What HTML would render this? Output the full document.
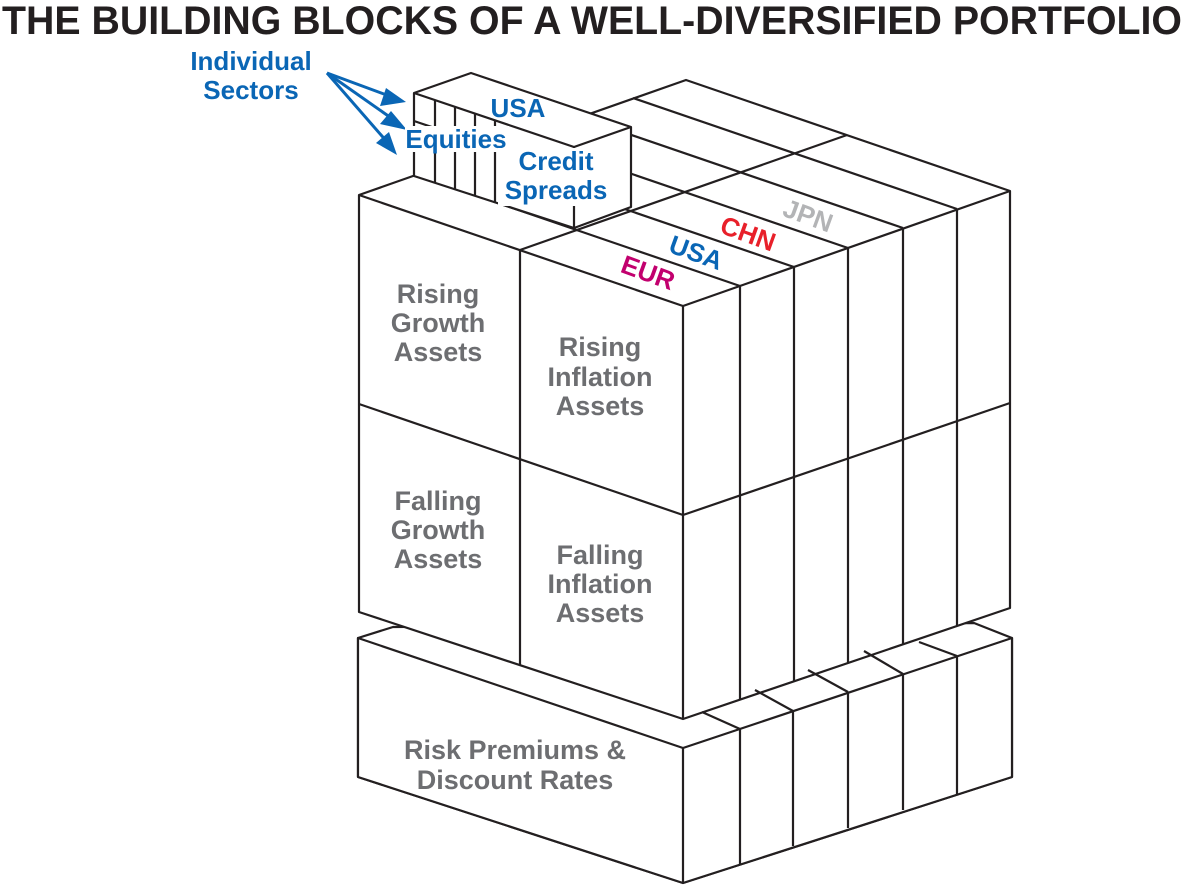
<!DOCTYPE html>
<html><head><meta charset="utf-8"><style>
html,body{margin:0;padding:0;background:#fff;}
svg{display:block;}
text{font-family:"Liberation Sans",sans-serif;font-weight:bold;}
.g{fill:#6d6e71;font-size:27px;}
.b{fill:#0a66b5;}
</style></head><body>
<svg width="1184" height="886" viewBox="0 0 1184 886" xmlns="http://www.w3.org/2000/svg">
<text x="2" y="34" font-size="40" fill="#231f20" textLength="1180" lengthAdjust="spacingAndGlyphs">THE BUILDING BLOCKS OF A WELL-DIVERSIFIED PORTFOLIO</text>

<g stroke="#231f20" stroke-width="2.2" fill="#fff" stroke-linejoin="round">
<!-- base block -->
<polygon points="358,638 393,627 974,623 1012,638 1012,777 683,883 358,777"/>
<polygon points="358,638 683,748 1012,638 1012,777 683,883 358,777" />
<line x1="683" y1="748" x2="683" y2="883"/>
<g>
<line x1="740" y1="729" x2="740" y2="864"/>
<line x1="793" y1="711" x2="793" y2="846"/>
<line x1="848" y1="692" x2="848" y2="828"/>
<line x1="903" y1="674" x2="903" y2="810"/>
<line x1="957" y1="656" x2="957" y2="795"/>
</g>
<!-- main block -->
<polygon points="359,195 686,80 1010,191 1010,608 683,719 359,612"/>
<line x1="683" y1="306" x2="683" y2="719"/>
<line x1="359" y1="195" x2="683" y2="306"/>
<line x1="683" y1="306" x2="1010" y2="191"/>
<line x1="520" y1="250" x2="520" y2="665"/>
<line x1="359" y1="404" x2="683" y2="515"/>
<line x1="683" y1="515" x2="1010" y2="403"/>
<line x1="740" y1="286" x2="740" y2="700"/>
<line x1="794" y1="267" x2="794" y2="681"/>
<line x1="848" y1="248" x2="848" y2="663"/>
<line x1="903" y1="228" x2="903" y2="644"/>
<line x1="957" y1="209" x2="957" y2="626"/>
<!-- top face lines -->
<line x1="520" y1="250" x2="847" y2="135"/>
<line x1="416" y1="175" x2="740" y2="286"/>
<line x1="470" y1="156" x2="794" y2="267"/>
<line x1="524" y1="137" x2="848" y2="248"/>
<line x1="579" y1="117" x2="903" y2="228"/>
<line x1="633" y1="98" x2="957" y2="209"/>
<!-- base strip crossing lines -->
<line x1="702" y1="712" x2="740" y2="729"/>
<line x1="755" y1="690" x2="793" y2="711"/>
<line x1="808" y1="670" x2="848" y2="692"/>
<line x1="864" y1="651" x2="903" y2="674"/>
<line x1="919" y1="642" x2="957" y2="656"/>
<!-- sector box -->
<polygon points="414,93 471,73 631,127 631,207 574,228 414,176"/>
<line x1="414" y1="93" x2="574" y2="147"/>
<line x1="574" y1="147" x2="631" y2="127"/>
<line x1="574" y1="147" x2="574" y2="228"/>
<line x1="414" y1="121" x2="574" y2="175"/>
<line x1="435" y1="100" x2="435" y2="183"/>
<line x1="455" y1="107" x2="455" y2="189"/>
<line x1="475" y1="114" x2="475" y2="196"/>
<line x1="495" y1="120" x2="495" y2="202"/>
</g>

<!-- arrows -->
<g stroke="#0a66b5" stroke-width="3" fill="#0a66b5">
<line x1="327" y1="73" x2="392" y2="97"/>
<line x1="327" y1="73" x2="394" y2="120"/>
<line x1="327" y1="73" x2="388" y2="143"/>
<polygon points="406,102 386,88 380,106" stroke="none"/>
<polygon points="407,130 391,111 380,124" stroke="none"/>
<polygon points="397,155 389,132 376,143" stroke="none"/>
</g>
<text x="251" y="70" font-size="26" class="b" text-anchor="middle">Individual</text>
<text x="251" y="99" font-size="26" class="b" text-anchor="middle">Sectors</text>

<text x="518" y="117" font-size="26" class="b" text-anchor="middle">USA</text>
<rect x="405" y="126" width="104" height="26" fill="#fff"/>
<text x="456" y="148" font-size="26" class="b" text-anchor="middle">Equities</text>
<rect x="498" y="148" width="116" height="58" fill="#fff"/>
<text x="556" y="170" font-size="26" class="b" text-anchor="middle">Credit</text>
<text x="556" y="199" font-size="26" class="b" text-anchor="middle">Spreads</text>

<g font-size="26" text-anchor="middle">
<text transform="translate(645,281) rotate(20)" fill="#c2006e">EUR</text>
<text transform="translate(693,261) rotate(20)" fill="#0a66b5">USA</text>
<text transform="translate(745,242) rotate(20)" fill="#e8202a">CHN</text>
<text transform="translate(805,224) rotate(20)" fill="#b3b4b6">JPN</text>
</g>

<g text-anchor="middle">
<text class="g" x="438" y="303">Rising</text>
<text class="g" x="438" y="332">Growth</text>
<text class="g" x="438" y="361">Assets</text>
<text class="g" x="600" y="356">Rising</text>
<text class="g" x="600" y="386">Inflation</text>
<text class="g" x="600" y="415">Assets</text>
<text class="g" x="438" y="510">Falling</text>
<text class="g" x="438" y="539">Growth</text>
<text class="g" x="438" y="568">Assets</text>
<text class="g" x="600" y="564">Falling</text>
<text class="g" x="600" y="593">Inflation</text>
<text class="g" x="600" y="622">Assets</text>
<text class="g" x="515" y="759">Risk Premiums &amp;</text>
<text class="g" x="515" y="789">Discount Rates</text>
</g>
</svg>
</body></html>
